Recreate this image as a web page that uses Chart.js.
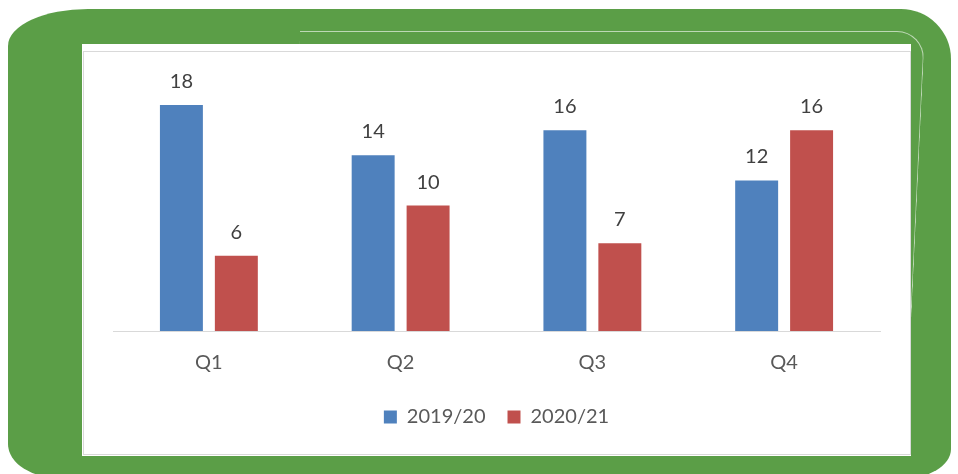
<!DOCTYPE html>
<html>
<head>
<meta charset="utf-8">
<script src="https://cdn.jsdelivr.net/npm/chart.js@4.4.1/dist/chart.umd.min.js"></script>
<style>
  html, body { margin: 0; padding: 0; background: #fff; width: 958px; height: 474px; overflow: hidden; }
  #frame {
    position: absolute; left: 8px; top: 9px; width: 943px; height: 470px;
    background: #5b9e47;
    border-radius: 80px 50px 50px 55px / 37px 50px 30px 35px;
  }
  #streak {
    position: absolute; left: 300px; top: 31px; width: 624px; height: 290px;
    border-top: 1.5px solid rgba(255,255,255,0.6);
    border-right: 1.5px solid rgba(255,255,255,0.6);
    border-top-right-radius: 28px;
    transform-origin: 100% 0; transform: skewX(-2.7deg);
  }
  #paper {
    position: absolute; left: 82px; top: 44px; width: 829px; height: 412px;
    background: #fff;
  }
  #box {
    position: absolute; left: 83px; top: 51px; width: 826px; height: 402px;
    border: 1px solid #d9d9d9; background: #fff;
  }
  canvas { display: block; }
</style>
</head>
<body>
<div id="frame"></div>
<div id="streak"></div>
<div id="paper"></div>
<div id="box"><canvas id="chart" width="826" height="402"></canvas></div>
<script>
const quarters = ['Q1', 'Q2', 'Q3', 'Q4'];
const season1 = [18, 14, 16, 12];
const season2 = [6, 10, 7, 16];
const seriesNames = ['2019/20', '2020/21'];

// value labels above every bar
const barLabels = {
  id: 'barLabels',
  afterDatasetsDraw(chart) {
    const ctx = chart.ctx;
    ctx.save();
    ctx.font = '20px Lato';
    ctx.fillStyle = '#404040';
    ctx.textAlign = 'center';
    ctx.textBaseline = 'alphabetic';
    chart.data.datasets.forEach((ds, i) => {
      chart.getDatasetMeta(i).data.forEach((bar, j) => {
        ctx.fillText(ds.data[j], bar.x, bar.y - 17);
      });
    });
    ctx.restore();
  }
};

// pull the legend a little closer to the axis labels
const legendNudge = {
  id: 'legendNudge',
  afterLayout(chart) {
    chart.legend.top -= 10;
    chart.legend.bottom -= 10;
  }
};

new Chart(document.getElementById('chart'), {
  type: 'bar',
  data: {
    labels: quarters,
    datasets: [
      { label: seriesNames[0], data: season1, backgroundColor: '#4f81bd' },
      { label: seriesNames[1], data: season2, backgroundColor: '#c0504d' }
    ]
  },
  options: {
    responsive: false,
    animation: false,
    layout: { padding: { left: 29, right: 30, top: 28, bottom: 7 } },
    categoryPercentage: 0.573,
    barPercentage: 0.782,
    scales: {
      x: {
        grid: { display: false, drawTicks: false },
        border: { color: '#d9d9d9', width: 1 },
        ticks: { font: { family: 'Lato', size: 20 }, color: '#595959', padding: 20 }
      },
      y: { display: false, min: 0, max: 20 }
    },
    plugins: {
      legend: {
        position: 'bottom',
        labels: {
          boxWidth: 13, boxHeight: 13, padding: 22,
          font: { family: 'Lato', size: 20 }, color: '#595959'
        }
      },
      tooltip: { enabled: false }
    }
  },
  plugins: [barLabels, legendNudge]
});
</script>
</body>
</html>
